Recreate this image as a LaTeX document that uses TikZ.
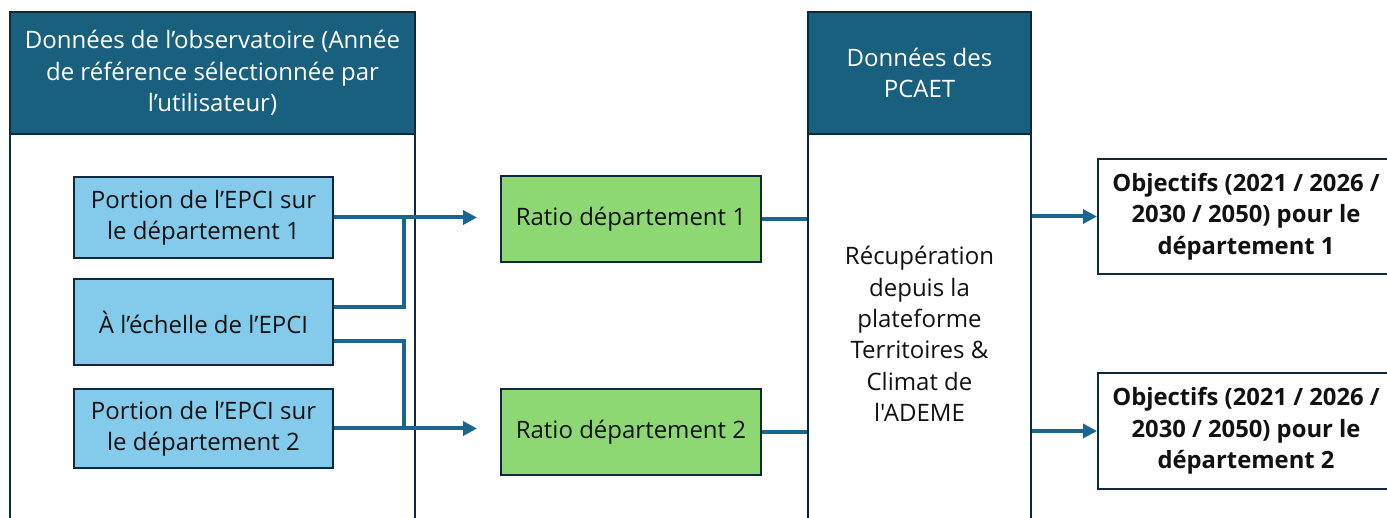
\documentclass[tikz,border=0pt]{standalone}
\usepackage{fontspec}
\setmainfont{Open Sans}[Ligatures=TeXOff]
\usetikzlibrary{arrows.meta,calc}
\definecolor{hdr}{HTML}{195F7E}
\definecolor{bord}{HTML}{0E2841}
\definecolor{lblue}{HTML}{83CAEB}
\definecolor{lgreen}{HTML}{8ED873}
\definecolor{conn}{HTML}{1B6690}
\definecolor{txt}{HTML}{111111}
\begin{document}
\begin{tikzpicture}[x=1pt,y=-1pt,
  basefont/.style={font=\fontsize{24}{31.4}\selectfont},
  hdrbox/.style={basefont, draw=bord, line width=2pt, fill=hdr, text=white, align=center, inner sep=0pt},
  panel/.style={basefont, draw=bord, line width=2pt, fill=white, text=txt, align=center, inner sep=0pt},
  bluebox/.style={basefont, draw=bord, line width=2pt, fill=lblue, text=txt, align=center, inner sep=0pt, minimum width=259pt},
  greenbox/.style={basefont, draw=bord, line width=2pt, fill=lgreen, text=txt, align=center, inner sep=0pt, minimum width=260pt, minimum height=86pt},
  objbox/.style={font=\fontsize{23.8}{31.4}\selectfont\bfseries, draw=bord, line width=2pt, fill=white, text=txt, align=center, inner sep=0pt, minimum width=296pt, minimum height=115pt},
  link/.style={draw=conn, line width=4pt},
  arr/.style={link, -{Triangle[length=14pt, width=14pt]}}
]
\useasboundingbox (0,0) rectangle (1387,518);
\clip (0,0) rectangle (1387,518);

% panels
\node[panel, minimum width=405pt, minimum height=400pt] (bodyL) at (212.5,334) {};
\node[hdrbox, minimum width=405pt, minimum height=122pt] (hL) at (212.5,73)
  {Données de l’observatoire (Année\\de référence sélectionnée par\\l’utilisateur)};
\node[panel, minimum width=223pt, minimum height=400pt] (bodyP) at (919.5,334)
  {Récupération\\depuis la\\plateforme\\Territoires \&\\Climat de\\l'ADEME};
\node[hdrbox, minimum width=223pt, minimum height=122pt] (hP) at (919.5,73)
  {Données des\\PCAET};

% blue boxes
\node[bluebox, minimum height=81pt] (b1) at (203.5,217.5) {Portion de l’EPCI sur\\le département 1};
\node[bluebox, minimum height=86pt] (b2) at (203.5,322) {À l’échelle de l’EPCI};
\node[bluebox, minimum height=79pt] (b3) at (203.5,428.5) {Portion de l’EPCI sur\\le département 2};

% green boxes
\node[greenbox] (g1) at (631,219) {Ratio département 1};
\node[greenbox] (g2) at (631,432) {Ratio département 2};

% objective boxes
\node[objbox] (o1) at (1246,216.5) {Objectifs (2021 / 2026 /\\2030 / 2050) pour le\\département 1};
\node[objbox, minimum height=116pt] (o2) at (1246,431) {Objectifs (2021 / 2026 /\\2030 / 2050) pour le\\département 2};

% connectors
\coordinate (a1) at (477,217.5);
\coordinate (a2) at (477,428.5);
\coordinate (j1) at (404,217.5);
\coordinate (j2) at (404,428.5);
\draw[arr] (b1.east) -- (a1);
\draw[arr] (b3.east) -- (a2);
\draw[link] ($(b2.east)+(0,-15)$) -| (j1);
\draw[link] ($(b2.east)+(0,19)$) -| (j2);
\draw[link] (g1.east) -- (bodyP.west |- g1.east);
\draw[link] (g2.east) -- (bodyP.west |- g2.east);
\draw[arr] (bodyP.east |- o1.west) -- (o1.west);
\draw[arr] (bodyP.east |- o2.west) -- (o2.west);
\end{tikzpicture}
\end{document}
